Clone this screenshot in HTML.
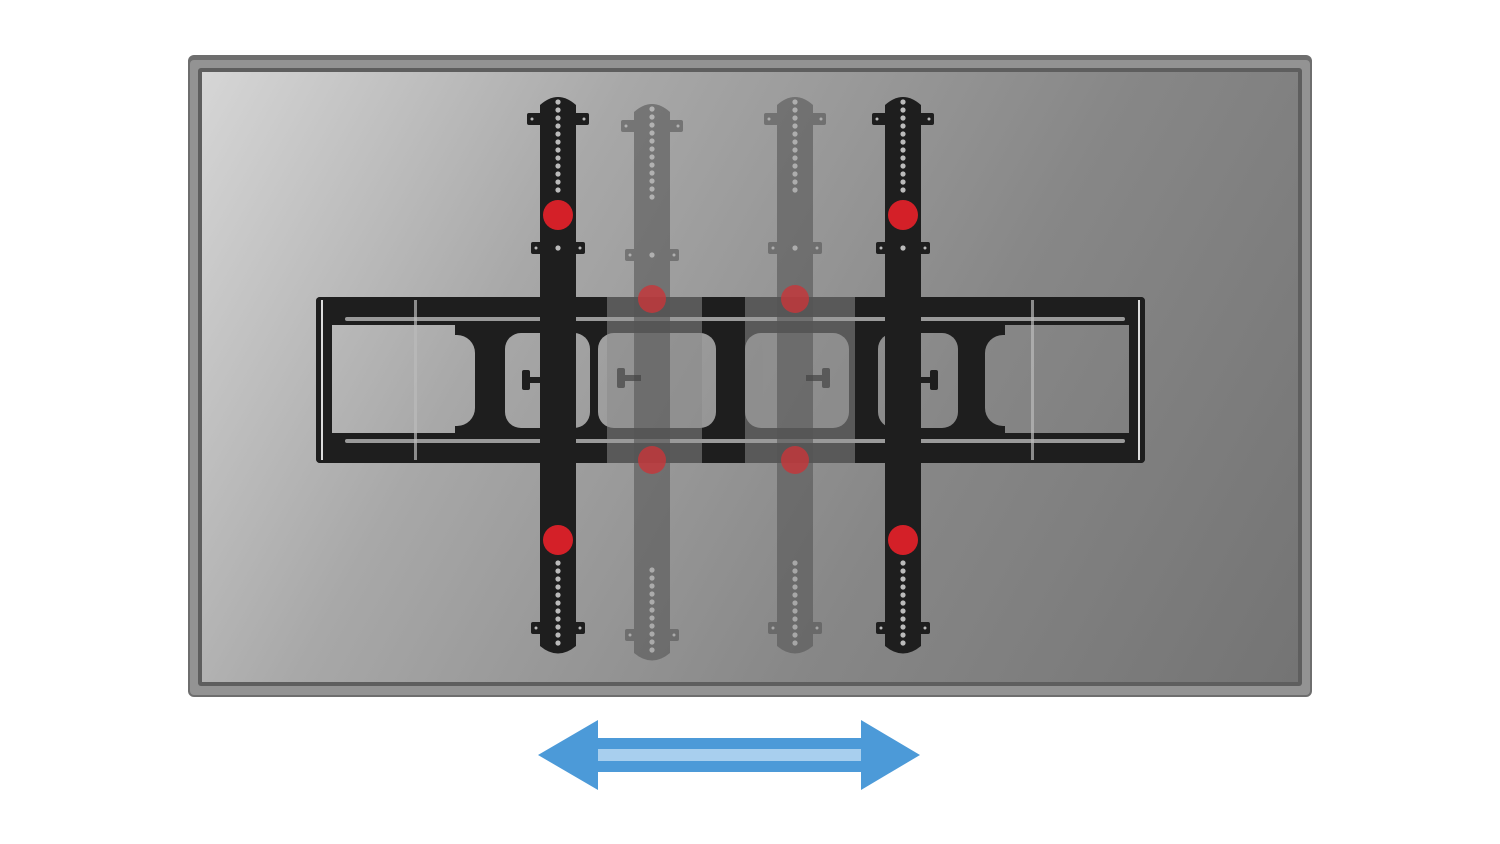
<!DOCTYPE html>
<html><head><style>html,body{margin:0;padding:0;background:#fff;width:1500px;height:844px;overflow:hidden}</style></head>
<body>
<svg width="1500" height="844" viewBox="0 0 1500 844" xmlns="http://www.w3.org/2000/svg">
<defs>
<linearGradient id="scr" gradientUnits="userSpaceOnUse" x1="202" y1="72" x2="1298" y2="682">
<stop offset="0" stop-color="#d6d6d6"/><stop offset="0.3" stop-color="#a8a8a8"/><stop offset="0.65" stop-color="#878787"/><stop offset="1" stop-color="#747474"/>
</linearGradient>
<g id="arm">
<path d="M-18,12 Q0,-4 18,12 L18,553 Q0,568 -18,553 Z"/>
<rect x="-31" y="20" width="62" height="12" rx="2"/>
<rect x="-27" y="149" width="54" height="12" rx="2"/>
<rect x="-27" y="529" width="54" height="12" rx="2"/>
<g fill="#bbb">
<circle cx="0" cy="9" r="2.6"/><circle cx="0" cy="17" r="2.6"/><circle cx="0" cy="25" r="2.6"/><circle cx="0" cy="33" r="2.6"/><circle cx="0" cy="41" r="2.6"/><circle cx="0" cy="49" r="2.6"/><circle cx="0" cy="57" r="2.6"/><circle cx="0" cy="65" r="2.6"/><circle cx="0" cy="73" r="2.6"/><circle cx="0" cy="81" r="2.6"/><circle cx="0" cy="89" r="2.6"/><circle cx="0" cy="97" r="2.6"/>
<circle cx="0" cy="155" r="2.6"/>
<circle cx="0" cy="470" r="2.6"/><circle cx="0" cy="478" r="2.6"/><circle cx="0" cy="486" r="2.6"/><circle cx="0" cy="494" r="2.6"/><circle cx="0" cy="502" r="2.6"/><circle cx="0" cy="510" r="2.6"/><circle cx="0" cy="518" r="2.6"/><circle cx="0" cy="526" r="2.6"/><circle cx="0" cy="534" r="2.6"/><circle cx="0" cy="542" r="2.6"/><circle cx="0" cy="550" r="2.6"/>
<circle cx="-26" cy="26" r="1.5"/><circle cx="26" cy="26" r="1.5"/><circle cx="-22" cy="155" r="1.5"/><circle cx="22" cy="155" r="1.5"/><circle cx="-22" cy="535" r="1.5"/><circle cx="22" cy="535" r="1.5"/>
</g>
</g>
</defs>
<!-- TV -->
<rect x="188" y="55" width="1124" height="642" rx="6" fill="#6e6e6e"/>
<rect x="190" y="60" width="1120" height="635" rx="4" fill="#939393"/>
<rect x="198" y="68" width="1104" height="618" rx="3" fill="#5e5e5e"/>
<rect x="202" y="72" width="1096" height="610" fill="url(#scr)"/>
<!-- frame -->
<g fill="#1e1e1e">
<rect x="316" y="297" width="829" height="28" rx="4"/>
<rect x="316" y="433" width="829" height="30" rx="4"/>
<rect x="316" y="297" width="16" height="166" rx="4"/>
<rect x="1129" y="297" width="16" height="166" rx="4"/>
<rect x="455" y="325" width="550" height="108"/>
</g>
<g fill="url(#scr)">
<rect x="430" y="335" width="45" height="91" rx="18"/>
<rect x="985" y="335" width="45" height="91" rx="18"/>
<rect x="505" y="333" width="85" height="95" rx="16"/>
<rect x="598" y="333" width="118" height="95" rx="16"/>
<rect x="745" y="333" width="104" height="95" rx="16"/>
<rect x="878" y="333" width="80" height="95" rx="16"/>
</g>
<!-- ghost frame overlay -->
<g fill="#8a8a8a" opacity="0.55">
<rect x="607" y="297" width="95" height="166"/>
<rect x="745" y="297" width="110" height="166"/>
</g>
<g fill="#9a9a9a">
<rect x="345" y="317" width="780" height="4" rx="2"/>
<rect x="345" y="439" width="780" height="4" rx="2"/>
</g>
<rect x="321" y="300" width="2" height="160" fill="#ddd"/>
<rect x="1138" y="300" width="2" height="160" fill="#ddd"/>
<rect x="414" y="300" width="3" height="160" fill="#bbb" opacity="0.7"/>
<rect x="1031" y="300" width="3" height="160" fill="#bbb" opacity="0.7"/>
<!-- ghost arms -->
<g fill="#555" opacity="0.6">
<use href="#arm" x="652" y="100"/>
<use href="#arm" x="795" y="93"/>
</g>
<!-- knobs -->
<g fill="#1e1e1e">
<rect x="522" y="370" width="8" height="20" rx="2"/><rect x="528" y="377" width="18" height="6"/>
<rect x="930" y="370" width="8" height="20" rx="2"/><rect x="914" y="377" width="18" height="6"/>
</g>
<g fill="#444" opacity="0.7">
<rect x="617" y="368" width="8" height="20" rx="2"/><rect x="623" y="375" width="18" height="6"/>
<rect x="822" y="368" width="8" height="20" rx="2"/><rect x="806" y="375" width="18" height="6"/>
</g>
<!-- black arms -->
<g fill="#1e1e1e">
<use href="#arm" x="558" y="93"/>
<use href="#arm" x="903" y="93"/>
</g>
<!-- red dots -->
<g fill="#d42028">
<circle cx="558" cy="215" r="15"/><circle cx="903" cy="215" r="15"/>
<circle cx="558" cy="540" r="15"/><circle cx="903" cy="540" r="15"/>
</g>
<g fill="#c8363a" opacity="0.8">
<circle cx="652" cy="299" r="14"/><circle cx="795" cy="299" r="14"/>
<circle cx="652" cy="460" r="14"/><circle cx="795" cy="460" r="14"/>
</g>
<!-- arrow -->
<path d="M538,755 L598,720 L598,738 L861,738 L861,720 L920,755 L861,790 L861,772 L598,772 L598,790 Z" fill="#4c9ad8"/>
<rect x="598" y="749" width="263" height="12" fill="#a8cfee"/>
</svg>
</body></html>
